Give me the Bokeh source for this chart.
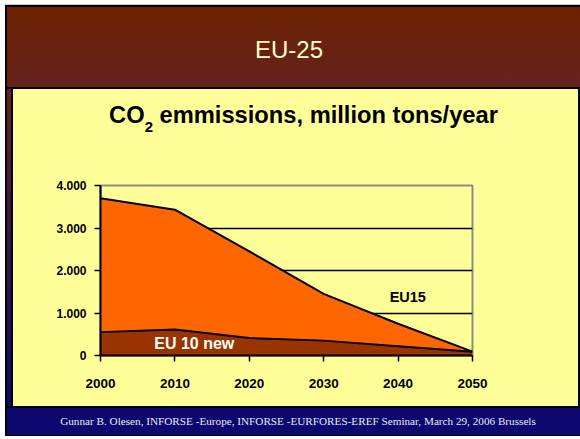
from bokeh.plotting import figure
from bokeh.models import Range1d, FixedTicker, Label, Div
from bokeh.layouts import column, row
from bokeh.embed import file_html
from bokeh.resources import INLINE

# ---- data ----
years = [2000, 2010, 2020, 2030, 2040, 2050]
eu10_new = [550, 610, 410, 350, 220, 90]
eu15 = [3150, 2820, 2040, 1100, 527, 0]
y_ticks = [0, 1000, 2000, 3000, 4000]
y_tick_labels = ["0", "1.000", "2.000", "3.000", "4.000"]
x_ticks = [2000, 2010, 2020, 2030, 2040, 2050]
header_text = "EU-25"
footer_text = "Gunnar B. Olesen, INFORSE -Europe, INFORSE -EURFORES-EREF Seminar, March 29, 2006 Brussels"

total = [a + b for a, b in zip(eu10_new, eu15)]

YELLOW = "#FFFF99"
SANS = "'Liberation Sans',Arial,sans-serif"

header = Div(
    text=('<div style="box-sizing:border-box;width:575px;padding-top:33px;padding-right:7px;text-align:center;'
          'font-family:' + SANS + ';font-size:24px;line-height:24px;color:#FFFFCC;">' + header_text + '</div>'),
    width=575, height=84, margin=(5, 0, 0, 5),
    styles={"background": "linear-gradient(to bottom, #6C2200, #66221E)",
            "box-shadow": "inset 2px 2px 0 #000, inset 0 -2px 0 #000, 0 -1px 0 #C4C4C4",
            "text-align": "center", "overflow": "hidden"},
)

title = Div(
    text=('<div style="box-sizing:border-box;width:565px;padding-top:15px;padding-left:16px;text-align:center;'
          'font-family:' + SANS + ';font-weight:bold;'
          'font-size:23.7px;line-height:23.7px;color:#000;white-space:nowrap;">'
          'CO<span style="font-size:15px;position:relative;top:9px;">2</span> emmissions, million tons/year</div>'),
    width=565, height=62, margin=0,
    styles={"background": YELLOW, "text-align": "center", "overflow": "hidden"},
)

p = figure(
    width=565, height=255,
    x_range=Range1d(2000, 2050), y_range=Range1d(0, 4000),
    output_backend="svg", toolbar_location=None,
    min_border_left=87, min_border_right=106, min_border_top=34, min_border_bottom=51,
    background_fill_color=YELLOW, border_fill_color=YELLOW,
    outline_line_color="#8C8C8C", outline_line_width=2,
    margin=0,
)

p.varea(x=years, y1=[0] * len(years), y2=eu10_new, fill_color="#993300")
p.varea(x=years, y1=eu10_new, y2=total, fill_color="#FF6600")
p.line(years, total, line_color="black", line_width=2)
p.line(years, eu10_new, line_color="black", line_width=2)

p.xgrid.visible = False
p.ygrid.ticker = FixedTicker(ticks=[1000, 2000, 3000])
p.ygrid.grid_line_color = "black"
p.ygrid.grid_line_width = 1.5

for ax in (p.xaxis[0], p.yaxis[0]):
    ax.axis_line_color = "black"
    ax.axis_line_width = 2
    ax.major_tick_line_color = "black"
    ax.major_tick_line_width = 1.5
    ax.major_tick_out = 6
    ax.major_tick_in = 0
    ax.minor_tick_line_color = None
    ax.major_label_text_font = "Liberation Sans"
    ax.major_label_text_font_style = "bold"
    ax.major_label_text_color = "black"

p.yaxis.ticker = FixedTicker(ticks=y_ticks)
p.yaxis.major_label_overrides = {t: l for t, l in zip(y_ticks, y_tick_labels)}
p.yaxis.major_label_text_font_size = "12px"
p.yaxis.major_label_standoff = 8

p.xaxis.ticker = FixedTicker(ticks=x_ticks)
p.xaxis.major_label_text_font_size = "13.5px"
p.xaxis.major_label_standoff = 17

p.add_layout(Label(x=2041.3, y=1365, text="EU15", text_font="Liberation Sans",
                   text_font_style="bold", text_font_size="14.5px", text_color="black",
                   text_align="center", text_baseline="middle"))
p.add_layout(Label(x=2012.6, y=275, text="EU 10 new", text_font="Liberation Sans",
                   text_font_style="bold", text_font_size="16px", text_color="white",
                   text_align="center", text_baseline="middle"))

strip_left = Div(text="", width=8, height=317, margin=(0, 0, 0, 5),
                 styles={"background": ("linear-gradient(to right, #000 0px, #000 2px, transparent 2px, "
                                        "transparent 6px, #000 6px, #000 8px), "
                                        "linear-gradient(to bottom, #66221E, #0C0870)")})
strip_right = Div(text="", width=2, height=317, margin=0, styles={"background": "#000"})

footer = Div(
    text=('<div style="box-sizing:border-box;width:575px;padding-left:11px;text-align:center;'
          'font-family:\'Liberation Serif\',\'Times New Roman\',serif;'
          'font-size:11.2px;line-height:30px;color:#E8E8F0;white-space:nowrap;">' + footer_text + '</div>'),
    width=575, height=30, margin=(0, 0, 0, 5),
    styles={"background": "#0C0870",
            "box-shadow": "inset 2px 2px 0 #000, inset 0 -1px 0 #000",
            "text-align": "center", "overflow": "hidden"},
)

panel = column(title, p, spacing=0, styles={"background-color": YELLOW})

layout = column(
    header,
    row(strip_left, panel, strip_right, spacing=0),
    footer,
    spacing=0,
)

open("out.html", "w").write(file_html(layout, INLINE))
